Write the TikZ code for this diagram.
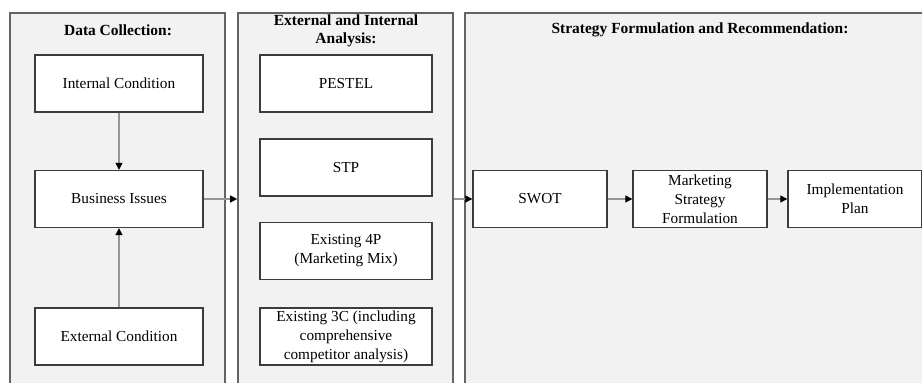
\documentclass[tikz,border=0pt]{standalone}
\usepackage{fontspec}
\setmainfont{Liberation Serif}
\usetikzlibrary{arrows.meta, positioning}
\definecolor{panelgray}{RGB}{242,242,242}
\definecolor{panelline}{RGB}{100,100,100}
\definecolor{boxline}{RGB}{60,60,60}
\definecolor{flowgray}{RGB}{150,150,150}

\begin{document}
\begin{tikzpicture}[
    panel/.style={draw=panelline, fill=panelgray, line width=0.9pt, minimum height=8cm, anchor=north},
    box/.style={draw=boxline, fill=white, line width=0.8pt, minimum height=1.14cm, align=center,
                inner sep=1pt, font=\fontsize{8.7}{10.8}\selectfont},
    title/.style={font=\bfseries\fontsize{8.8}{10.2}\selectfont, align=center},
    flow/.style={draw=flowgray, line width=0.7pt, -{Triangle[color=black, length=4pt, width=4pt]}}
  ]
  \useasboundingbox (0,0) rectangle (18.44,7.64);
  \clip (0,0) rectangle (18.44,7.64);

  % the three columns
  \node[panel, minimum width=4.3cm] (colA) at (2.35,7.40) {};
  \node[panel, minimum width=4.3cm] (colB) at (6.91,7.40) {};
  \node[panel, minimum width=9.4cm] (colC) at (14.0,7.40) {};

  \node[title] (titleA) at (2.36,7.04) {Data Collection:};
  \node[title] (titleB) at (6.92,7.02) {External and Internal\\Analysis:};
  \node[title] (titleC) at (14.0,7.04) {Strategy Formulation and Recommendation:};

  % data collection
  \node[box, minimum width=3.36cm] (internal) at (2.38,5.97) {Internal Condition};
  \node[box, minimum width=3.36cm] (issues) at (2.38,3.66) {Business Issues};
  \node[box, minimum width=3.36cm] (external) at (2.38,0.91) {External Condition};

  % analysis
  \node[box, minimum width=3.44cm] (pestel) at (6.92,5.97) {PESTEL};
  \node[box, minimum width=3.44cm] (stp) at (6.92,4.29) {STP};
  \node[box, minimum width=3.44cm] (mix) at (6.92,2.62) {Existing 4P\\(Marketing Mix)};
  \node[box, minimum width=3.44cm] (threec) at (6.92,0.91) {Existing 3C (including\\comprehensive\\competitor analysis)};

  % strategy
  \node[box, minimum width=2.68cm] (swot) at (10.80,3.66) {SWOT};
  \node[box, minimum width=2.68cm] (formulation) at (14.0,3.66) {Marketing\\Strategy\\Formulation};
  \node[box, minimum width=2.68cm] (plan) at (17.10,3.66) {Implementation\\Plan};

  \draw[flow] (internal) -- (issues);
  \draw[flow] (external) -- (issues);
  \draw[flow] (issues.east) -- (issues -| colB.west);
  \draw[flow] (issues -| colB.east) -- (swot.west);
  \draw[flow] (swot) -- (formulation);
  \draw[flow] (formulation) -- (plan);
\end{tikzpicture}
\end{document}
